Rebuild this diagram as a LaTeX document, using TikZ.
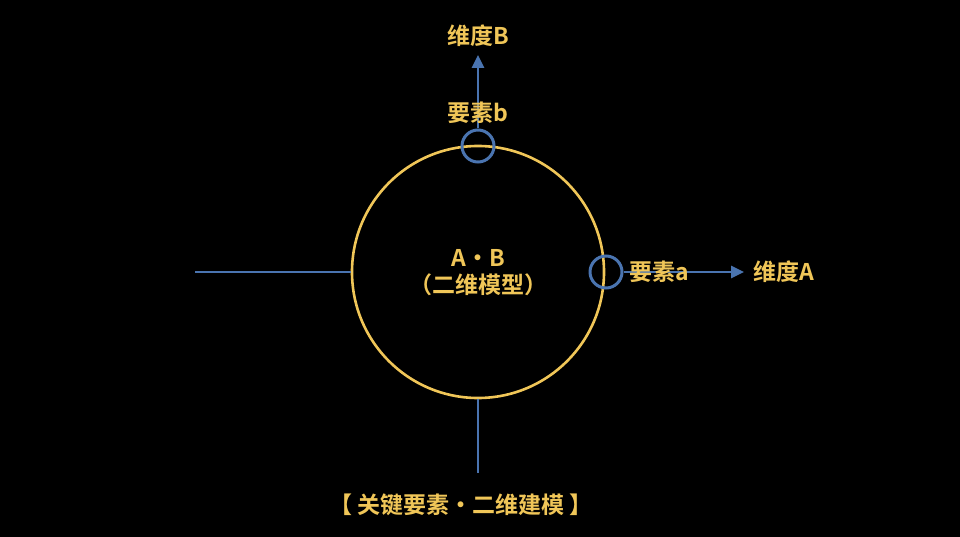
\documentclass[tikz,border=0pt]{standalone}
\usepackage{fontspec}
\setmainfont{Noto Sans CJK SC}[BoldFont={Noto Sans CJK SC Bold}]
\usepackage{tikz}
\usetikzlibrary{arrows.meta}
\usetikzlibrary{positioning}

\definecolor{gold}{RGB}{240,198,88}
\definecolor{steel}{RGB}{74,116,176}

\tikzset{
    label/.style={text=gold, font=\bfseries\fontsize{23}{27}\selectfont, inner sep=1pt},
    dot/.style={circle, draw=steel, line width=3pt, minimum size=32pt, inner sep=0pt},
    axis/.style={draw=steel, line width=2.6pt},
    arr/.style={axis, -{Triangle[length=13pt,width=12pt]}}
}

\begin{document}
\begin{tikzpicture}[x=1pt, y=-1pt]

    % Background
    \fill[black] (0,0) rectangle (960,537);
    \useasboundingbox (0,0) rectangle (960,537);

    % Model circle
    \node[circle, draw=gold, line width=2.6pt, minimum size=252pt, inner sep=0pt] (model) at (478,272) {};
    \node[label] (ab) at (478,258) {A・B};
    \node[label] (sub) at (478,285) {（二维模型）};

    % Free axis ends
    \coordinate (lend) at (195,272);
    \coordinate (bend) at (478,473);
    \draw[axis] (lend) -- (model.west);
    \draw[axis] (model.south) -- (bend);

    % Element b / dimension B
    \node[dot] (eb) at (478,146) {};
    \node[label] (dimB) at (478,36) {维度B};
    \coordinate (tipB) at (478,55);
    \draw[arr] (eb.north) -- (tipB);
    \node[label] (lb) at (478,113) {要素b};

    % Element a / dimension A
    \node[dot] (ea) at (606,272) {};
    \node[label] (dimA) at (784,272) {维度A};
    \coordinate (tipA) at (744,272);
    \draw[arr] (ea.east) -- (tipA);
    \node[label] (la) at (659,272) {要素a};

    % Caption
    \node[label] (cap) at (461,505) {【 关键要素・二维建模 】};

\end{tikzpicture}
\end{document}
